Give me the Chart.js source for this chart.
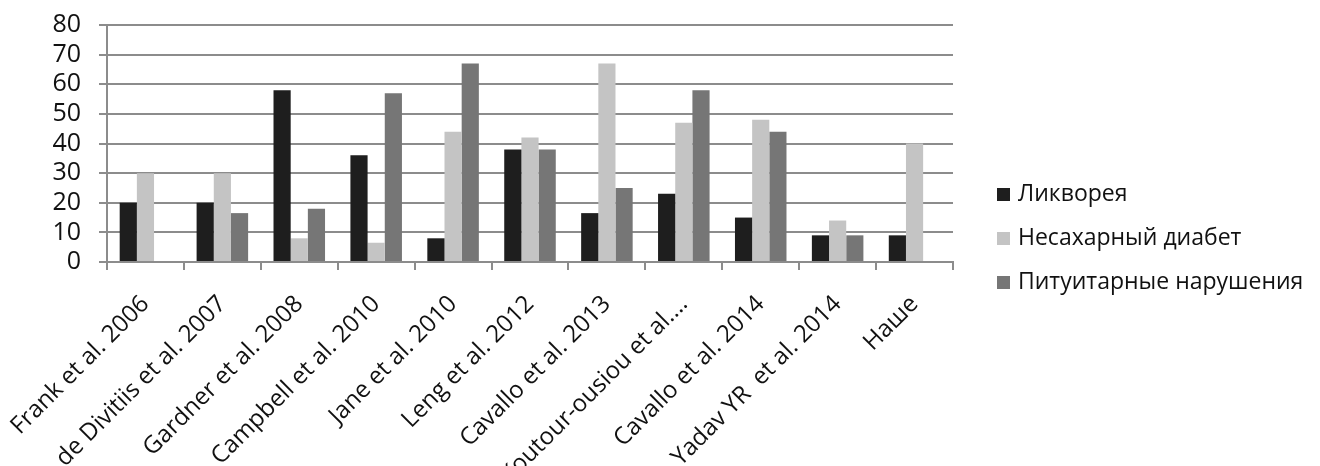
<!DOCTYPE html>
<html>
<head>
<meta charset="utf-8">
<script src="https://cdn.jsdelivr.net/npm/chart.js@4"></script>
<style>
  html, body { margin: 0; padding: 0; background: #fff; }
  #wrap { width: 1320px; height: 466px; }
</style>
</head>
<body>
<div id="wrap"><canvas id="chart" width="1320" height="466"></canvas></div>
<script>
const categories = [
    'Frank et al. 2006', 'de Divitiis et al. 2007', 'Gardner et al. 2008', 'Campbell et al. 2010',
    'Jane et al. 2010', 'Leng et al. 2012', 'Cavallo et al. 2013', 'Koutour-ousiou et al.…',
    'Cavallo et al. 2014', 'Yadav YR  et al. 2014', 'Наше'
];
const seriesNames = ['Ликворея', 'Несахарный диабет', 'Питуитарные нарушения'];
const liquorrhea = [20, 20, 58, 36, 8, 38, 16.5, 23, 15, 9, 9];
const diabetes = [30, 30, 8, 6.5, 44, 42, 67, 47, 48, 14, 40];
const pituitary = [null, 16.5, 18, 57, 67, 38, 25, 58, 44, 9, null];
const yMin = 0, yMax = 80, yStep = 10;

const COLORS = ['#1e1e1e', '#c4c4c4', '#767676'];
const FONT = 'Open Sans';

// legend drawn by hand so it sits where the original has it
const sideLegend = {
    id: 'sideLegend',
    afterDraw(chart) {
        const ctx = chart.ctx;
        ctx.save();
        ctx.font = `23px "${FONT}"`;
        ctx.textBaseline = 'middle';
        chart.data.datasets.forEach((ds, i) => {
            const y = 194 + i * 44;
            ctx.fillStyle = ds.backgroundColor;
            ctx.fillRect(997, y - 6, 13, 13);
            ctx.fillStyle = '#111';
            ctx.fillText(ds.label, 1018, y);
        });
        ctx.restore();
    }
};

new Chart(document.getElementById('chart'), {
    type: 'bar',
    data: {
        labels: categories,
        datasets: [
            { label: seriesNames[0], data: liquorrhea, backgroundColor: COLORS[0] },
            { label: seriesNames[1], data: diabetes, backgroundColor: COLORS[1] },
            { label: seriesNames[2], data: pituitary, backgroundColor: COLORS[2] }
        ]
    },
    options: {
        responsive: false,
        animation: false,
        layout: { padding: { top: 25, right: 367, left: 0, bottom: 0 } },
        datasets: { bar: { barPercentage: 1.0, categoryPercentage: 0.67, borderWidth: 0 } },
        plugins: { legend: { display: false }, tooltip: { enabled: false } },
        scales: {
            x: {
                offset: true,
                grid: { offset: true, drawOnChartArea: false, drawTicks: true, tickLength: 8, color: '#8c8c8c', lineWidth: 2 },
                border: { color: '#8c8c8c', width: 2 },
                ticks: {
                    autoSkip: false, maxRotation: 45, minRotation: 45, padding: 20,
                    color: '#111', font: { family: FONT, size: 24 }
                },
                afterFit(scale) { scale.height = 204; scale.paddingLeft = 0; scale.paddingRight = 0; }
            },
            y: {
                min: yMin, max: yMax,
                grid: { color: '#8c8c8c', lineWidth: 2, tickLength: 8 },
                border: { color: '#8c8c8c', width: 2 },
                ticks: {
                    stepSize: yStep, padding: 18, autoSkip: false, maxTicksLimit: 20,
                    color: '#111', font: { family: FONT, size: 25, lineHeight: 1 }
                },
                afterFit(scale) { scale.width = 107; scale.paddingTop = 0; scale.paddingBottom = 0; }
            }
        }
    },
    plugins: [sideLegend]
});
</script>
</body>
</html>
